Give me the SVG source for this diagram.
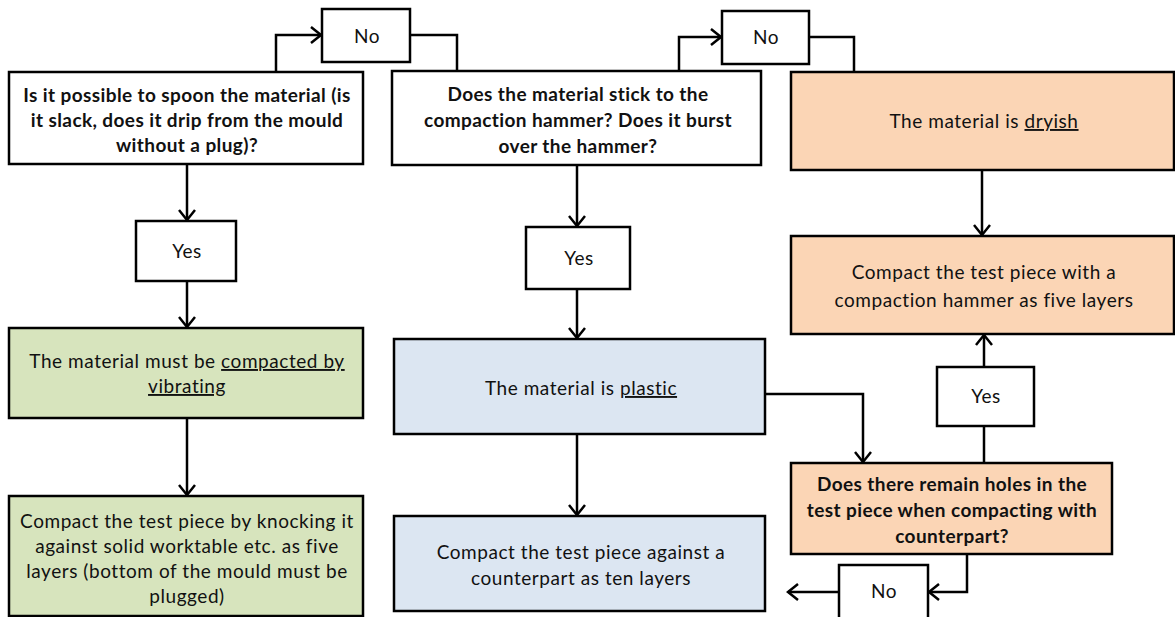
<svg xmlns="http://www.w3.org/2000/svg" width="1175" height="617" viewBox="0 0 1175 617">
<style>
.box{stroke:#000;stroke-width:2.5}
.w{fill:#fff}.g{fill:#D7E4BD}.b{fill:#DCE6F2}.o{fill:#FBD5B5}
text{font-family:Lato,"Liberation Sans",sans-serif;font-size:19px;letter-spacing:0.55px;fill:#111;text-anchor:middle}
.bold{font-weight:bold;letter-spacing:0.4px}
.u{text-decoration:underline}
.c{fill:none;stroke:#000;stroke-width:2.5}
</style>
<defs>
<marker id="ah" markerUnits="userSpaceOnUse" markerWidth="14" markerHeight="20" viewBox="0 0 14 20" refX="12" refY="10" orient="auto">
<path d="M2,2 L12,10 L2,18" fill="none" stroke="#000" stroke-width="2.5"/>
</marker>
</defs>
<rect width="1175" height="617" fill="#fff"/>
<g id="connectors">
<path class="c" d="M276,72 V35 H321" marker-end="url(#ah)"/>
<path class="c" d="M410,35 H457 V71"/>
<path class="c" d="M679,71 V37 H721" marker-end="url(#ah)"/>
<path class="c" d="M809,37 H854 V72"/>
<path class="c" d="M187,164 V220" marker-end="url(#ah)"/>
<path class="c" d="M187,281 V327" marker-end="url(#ah)"/>
<path class="c" d="M187,418 V495" marker-end="url(#ah)"/>
<path class="c" d="M577,165 V226" marker-end="url(#ah)"/>
<path class="c" d="M577,289 V338" marker-end="url(#ah)"/>
<path class="c" d="M577,434 V515" marker-end="url(#ah)"/>
<path class="c" d="M982,170 V235" marker-end="url(#ah)"/>
<path class="c" d="M765,394 H863 V462" marker-end="url(#ah)"/>
<path class="c" d="M984,463 V426"/>
<path class="c" d="M984,367 V335" marker-end="url(#ah)"/>
<path class="c" d="M967,554 V592 H929" marker-end="url(#ah)"/>
<path class="c" d="M839,592 H788" marker-end="url(#ah)"/>
</g>
<g id="q1">
<rect class="box w" x="9" y="72" width="354" height="92"/>
<text class="bold" x="187" y="102">Is it possible to spoon the material (is</text>
<text class="bold" x="187" y="127">it slack, does it drip from the mould</text>
<text class="bold" x="187" y="152">without a plug)?</text>
</g>
<g id="no1">
<rect class="box w" x="322" y="9" width="88" height="53"/>
<text x="367" y="43">No</text>
</g>
<g id="q2">
<rect class="box w" x="392" y="71" width="369" height="94"/>
<text class="bold" x="578" y="101">Does the material stick to the</text>
<text class="bold" x="578" y="127">compaction hammer? Does it burst</text>
<text class="bold" x="578" y="153">over the hammer?</text>
</g>
<g id="no2">
<rect class="box w" x="722" y="11" width="87" height="53"/>
<text x="766" y="44">No</text>
</g>
<g id="dryish">
<rect class="box o" x="791" y="72" width="383" height="98"/>
<text x="984" y="128">The material is <tspan class="u">dryish</tspan></text>
</g>
<g id="yes1">
<rect class="box w" x="136" y="221" width="100" height="60"/>
<text x="187" y="258">Yes</text>
</g>
<g id="vibrating">
<rect class="box g" x="9" y="328" width="354" height="90"/>
<text x="187" y="368">The material must be <tspan class="u">compacted by</tspan></text>
<text x="187" y="393" class="u">vibrating</text>
</g>
<g id="knocking">
<rect class="box g" x="9" y="496" width="354" height="120"/>
<text x="187" y="528">Compact the test piece by knocking it</text>
<text x="187" y="553">against solid worktable etc. as five</text>
<text x="187" y="578">layers (bottom of the mould must be</text>
<text x="187" y="603">plugged)</text>
</g>
<g id="yes2">
<rect class="box w" x="526" y="227" width="104" height="62"/>
<text x="579" y="265">Yes</text>
</g>
<g id="plastic">
<rect class="box b" x="394" y="339" width="371" height="95"/>
<text x="581" y="395">The material is <tspan class="u">plastic</tspan></text>
</g>
<g id="counterpart">
<rect class="box b" x="394" y="516" width="371" height="95"/>
<text x="581" y="559">Compact the test piece against a</text>
<text x="581" y="585">counterpart as ten layers</text>
</g>
<g id="hammer">
<rect class="box o" x="791" y="236" width="383" height="98"/>
<text x="984" y="279">Compact the test piece with a</text>
<text x="984" y="307">compaction hammer as five layers</text>
</g>
<g id="yes3">
<rect class="box w" x="937" y="367" width="97" height="59"/>
<text x="986" y="403">Yes</text>
</g>
<g id="q3">
<rect class="box o" x="791" y="463" width="321" height="91"/>
<text class="bold" x="952" y="491">Does there remain holes in the</text>
<text class="bold" x="952" y="517">test piece when compacting with</text>
<text class="bold" x="952" y="543">counterpart?</text>
</g>
<g id="no3">
<rect class="box w" x="839" y="565" width="89" height="60"/>
<text x="884" y="598">No</text>
</g>
</svg>
